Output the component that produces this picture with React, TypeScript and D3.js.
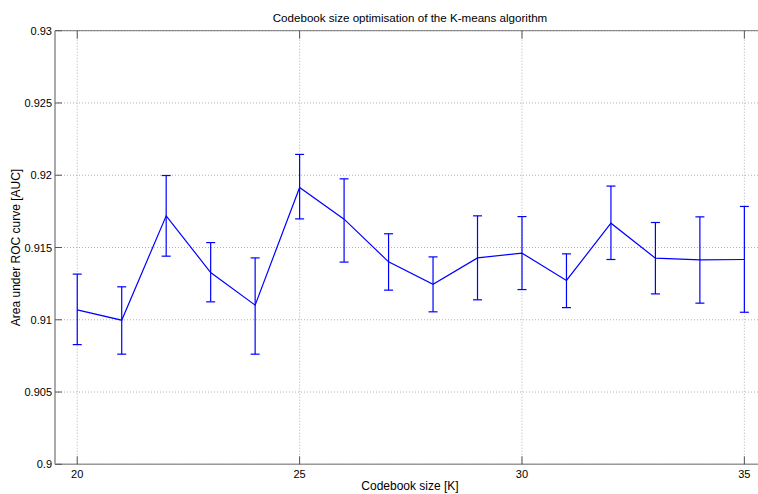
import React from "react";
import * as d3 from "d3";

const codebookSizes = [20, 21, 22, 23, 24, 25, 26, 27, 28, 29, 30, 31, 32, 33, 34, 35];
const aucMean = [0.91068, 0.90997, 0.91719, 0.91327, 0.91101, 0.91915, 0.91696, 0.91401, 0.91246, 0.91428, 0.91461, 0.91272, 0.91668, 0.91426, 0.91415, 0.91417];
const aucUpper = [0.91316, 0.91228, 0.91998, 0.91534, 0.91428, 0.92144, 0.91975, 0.91595, 0.91435, 0.91719, 0.91714, 0.91456, 0.91925, 0.91673, 0.91712, 0.91784];
const aucLower = [0.90828, 0.90762, 0.9144, 0.91124, 0.90762, 0.91698, 0.91399, 0.91205, 0.91055, 0.91138, 0.91209, 0.91084, 0.91417, 0.91179, 0.91115, 0.91052];
const xTicks = [20, 25, 30, 35];
const yTicks = [0.9, 0.905, 0.91, 0.915, 0.92, 0.925, 0.93];

const W = 758;
const H = 494;
const left = 55;
const right = 766.6;
const top = 30.7;
const bottom = 464.3;

export default function App() {
  const x = d3.scaleLinear().domain([19.5, 35.5]).range([left, right]);
  const y = d3.scaleLinear().domain([0.9, 0.93]).range([bottom, top]);
  const line = d3
    .line<number>()
    .x((_, i) => x(codebookSizes[i]))
    .y((d) => y(d));
  const font = "'Liberation Sans', Arial, sans-serif";
  const cap = 4.5;
  const blue = "#0000ff";
  return (
    <svg
      width={W}
      height={H}
      style={{ position: "absolute", left: 0, top: 0, background: "#fff" }}
      fontFamily={font}
    >
      {/* grid */}
      {xTicks.map((t) => (
        <line key={"gx" + t} x1={x(t)} x2={x(t)} y1={top} y2={bottom} stroke="#b0b0b0" strokeDasharray="1,2" />
      ))}
      {yTicks.map((t) => (
        <line key={"gy" + t} x1={left} x2={W} y1={y(t)} y2={y(t)} stroke="#b0b0b0" strokeDasharray="1,2" />
      ))}
      {/* axes */}
      <line x1={left} x2={W} y1={top} y2={top} stroke="#777" strokeWidth={1} />
      <line x1={left} x2={W} y1={bottom} y2={bottom} stroke="#999" strokeWidth={1.5} />
      <line x1={left} x2={left} y1={top} y2={bottom} stroke="#aaa" strokeWidth={2} />
      {/* ticks */}
      {xTicks.map((t) => (
        <g key={"tx" + t}>
          <line x1={x(t)} x2={x(t)} y1={bottom} y2={bottom - 8} stroke="#555" />
          <line x1={x(t)} x2={x(t)} y1={top} y2={top + 8} stroke="#555" />
          <text x={x(t)} y={bottom + 14} fontSize={11} textAnchor="middle" fill="#000">
            {t}
          </text>
        </g>
      ))}
      {yTicks.map((t) => (
        <g key={"ty" + t}>
          <line x1={left} x2={left + 7} y1={y(t)} y2={y(t)} stroke="#555" />
          <text x={left - 3} y={y(t) + 4} fontSize={11} textAnchor="end" fill="#000">
            {d3.format("")(+t.toFixed(3))}
          </text>
        </g>
      ))}
      {/* error bars */}
      {codebookSizes.map((k, i) => (
        <g key={"e" + k} stroke={blue} strokeWidth={1.2}>
          <line x1={x(k)} x2={x(k)} y1={y(aucLower[i])} y2={y(aucUpper[i])} />
          <line x1={x(k) - cap} x2={x(k) + cap} y1={y(aucLower[i])} y2={y(aucLower[i])} />
          <line x1={x(k) - cap} x2={x(k) + cap} y1={y(aucUpper[i])} y2={y(aucUpper[i])} />
        </g>
      ))}
      <path d={line(aucMean) || ""} fill="none" stroke={blue} strokeWidth={1.2} />
      {/* labels */}
      <text x={410} y={22} fontSize={11.6} textAnchor="middle" fill="#000">
        Codebook size optimisation of the K-means algorithm
      </text>
      <text x={410} y={490} fontSize={12} textAnchor="middle" fill="#000">
        Codebook size [K]
      </text>
      <text
        transform={`translate(20, ${(top + bottom) / 2}) rotate(-90)`}
        fontSize={12}
        textAnchor="middle"
        fill="#000"
      >
        Area under ROC curve [AUC]
      </text>
    </svg>
  );
}
